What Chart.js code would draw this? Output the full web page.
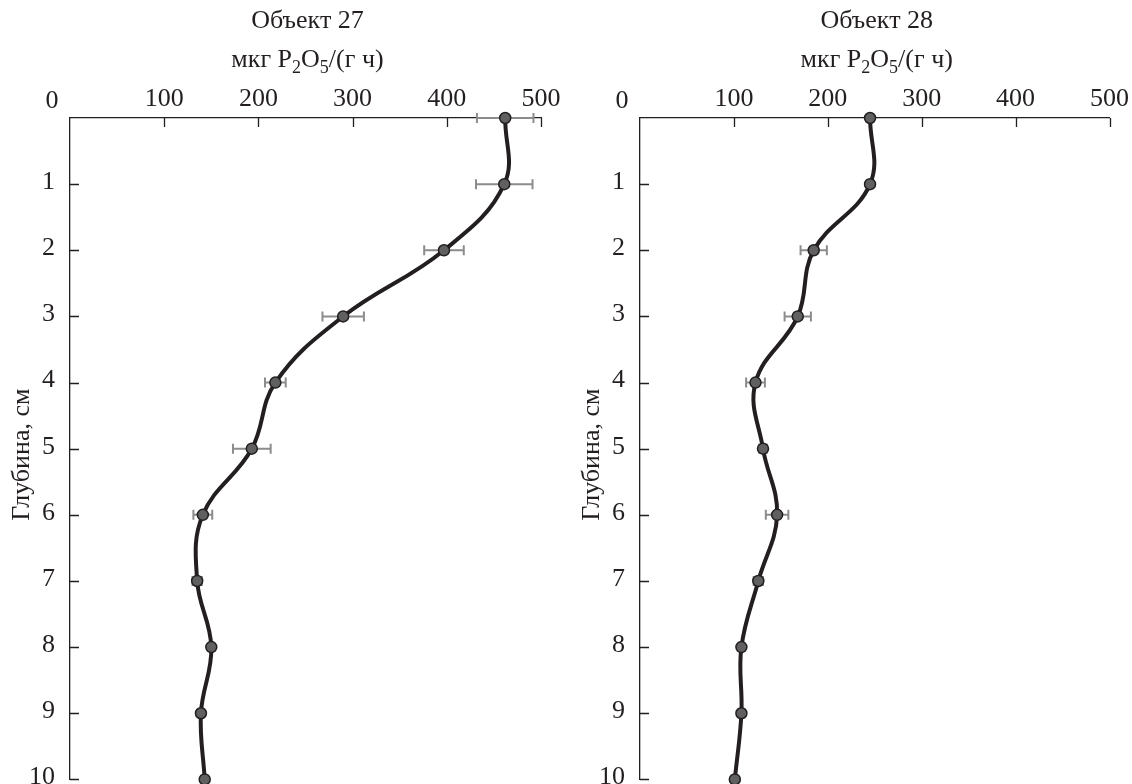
<!DOCTYPE html>
<html>
<head>
<meta charset="utf-8">
<script src="https://cdn.jsdelivr.net/npm/chart.js@4.4.1/dist/chart.umd.min.js"></script>
<style>
  html, body { margin: 0; padding: 0; background: #fff; overflow: hidden; width: 1132px; height: 784px; }
  .box { position: absolute; top: 0; width: 566px; height: 810px; }
  #b1 { left: 0; }
  #b2 { left: 566px; }
</style>
</head>
<body>
<div class="box" id="b1"><canvas id="c1" width="566" height="810"></canvas></div>
<div class="box" id="b2"><canvas id="c2" width="566" height="810"></canvas></div>
<script>
// ---- data ----
const depths = [0, 1, 2, 3, 4, 5, 6, 7, 8, 9, 10];
const depthLabels = ['0', '1', '2', '3', '4', '5', '6', '7', '8', '9', '10'];
const xTickValues = [0, 100, 200, 300, 400, 500];
const xTickLabels = ['0', '100', '200', '300', '400', '500'];
const titles = ['Объект 27', 'Объект 28'];
const yTitle = 'Глубина, см';
const obj27 = [462, 461, 397, 290, 218, 193, 141, 135, 150, 139, 143];
const err27 = [30, 30, 21, 22, 11, 20, 10, 5, 3, 3, 3];
const obj28 = [245, 245, 185, 168, 123, 131, 146, 126, 108, 108, 101];
const err28 = [3, 3, 14, 14, 10, 4, 12, 5, 3, 3, 3];

const INK = '#231f20';
const FONT = 'Liberation Serif';
const FS = 26;

const decor = {
  id: 'decor',
  beforeDatasetsDraw(chart, args, o) {
    const { ctx, scales: { x, y } } = chart;
    ctx.save();
    ctx.strokeStyle = '#8c8c8c';
    ctx.lineWidth = 2;
    for (let i = 0; i < o.values.length; i++) {
      const py = y.getPixelForValue(depths[i]);
      const x1 = x.getPixelForValue(o.values[i] - o.errors[i]);
      const x2 = x.getPixelForValue(o.values[i] + o.errors[i]);
      ctx.beginPath();
      ctx.moveTo(x1, py); ctx.lineTo(x2, py);
      ctx.moveTo(x1, py - 5); ctx.lineTo(x1, py + 5);
      ctx.moveTo(x2, py - 5); ctx.lineTo(x2, py + 5);
      ctx.stroke();
    }
    ctx.restore();
  },
  afterDraw(chart, args, o) {
    const { ctx, chartArea: a, scales: { x, y } } = chart;
    ctx.save();
    // inner tick marks
    ctx.strokeStyle = INK;
    ctx.lineWidth = 1.3;
    ctx.beginPath();
    for (let i = 1; i < xTickValues.length; i++) {
      const px = Math.round(x.getPixelForValue(xTickValues[i])) + 0.5;
      ctx.moveTo(px, a.top); ctx.lineTo(px, a.top + 9);
    }
    for (let i = 1; i < depths.length; i++) {
      const py = Math.round(y.getPixelForValue(depths[i])) + 0.5;
      ctx.moveTo(a.left, py); ctx.lineTo(a.left + 9, py);
    }
    ctx.stroke();
    // texts
    ctx.fillStyle = INK;
    ctx.textBaseline = 'alphabetic';
    ctx.textAlign = 'center';
    ctx.font = FS + 'px "' + FONT + '"';
    const cx = (a.left + a.right) / 2 + 2;
    ctx.fillText(o.title, cx, 28);
    // corner zero label
    ctx.fillText(xTickLabels[0], a.left - 18, 108);
    // units with subscripts
    const parts = [['мкг P', 0], ['2', 1], ['O', 0], ['5', 1], ['/(г ч)', 0]];
    const big = FS + 'px "' + FONT + '"';
    const small = Math.round(FS * 0.68) + 'px "' + FONT + '"';
    let total = 0;
    for (const [t, s] of parts) { ctx.font = s ? small : big; total += ctx.measureText(t).width; }
    let xx = cx - total / 2;
    ctx.textAlign = 'left';
    for (const [t, s] of parts) {
      ctx.font = s ? small : big;
      ctx.fillText(t, xx, s ? 73 : 67);
      xx += ctx.measureText(t).width;
    }
    // y title
    ctx.font = big;
    ctx.textAlign = 'center';
    ctx.textBaseline = 'middle';
    ctx.translate(a.left - 48, (a.top + a.bottom) / 2 + 6);
    ctx.rotate(-Math.PI / 2);
    ctx.fillText(yTitle, 0, 0);
    ctx.restore();
  }
};

function makeChart(id, values, errors, title, yWidth, padRight) {
  const pts = values.map((v, i) => ({ x: v, y: depths[i] }));
  return new Chart(document.getElementById(id), {
    type: 'scatter',
    data: {
      datasets: [{
        data: pts,
        showLine: true,
        tension: 0.4,
        borderColor: INK,
        borderWidth: 4,
        pointRadius: 5.5,
        pointHoverRadius: 5.5,
        pointBackgroundColor: '#606060',
        pointBorderColor: INK,
        pointBorderWidth: 1.5,
        clip: false
      }]
    },
    options: {
      responsive: false,
      animation: false,
      events: [],
      layout: { padding: { top: 0, left: 0, right: padRight, bottom: 29 } },
      plugins: {
        legend: { display: false },
        tooltip: { enabled: false },
        title: { display: false },
        decor: { values, errors, title }
      },
      scales: {
        x: {
          type: 'linear',
          position: 'top',
          min: 0, max: 500,
          afterBuildTicks: (s) => { s.ticks = xTickValues.map(v => ({ value: v })); },
          afterFit: (s) => { s.height = 118; },
          grid: { display: false, drawTicks: false },
          border: { display: true, color: INK, width: 1.3 },
          ticks: {
            padding: 3,
            color: INK,
            font: { family: FONT, size: FS },
            maxRotation: 0,
            callback: (v, i) => (i === 0 ? '' : xTickLabels[i])
          }
        },
        y: {
          type: 'linear',
          reverse: true,
          min: 0, max: 10,
          afterBuildTicks: (s) => { s.ticks = depths.map(v => ({ value: v })); },
          afterFit: (s) => { s.width = yWidth; },
          grid: { display: false, drawTicks: false },
          border: { display: true, color: INK, width: 1.3 },
          ticks: {
            padding: 15,
            labelOffset: -2,
            color: INK,
            font: { family: FONT, size: FS },
            callback: (v, i) => (i === 0 ? '' : depthLabels[i])
          }
        }
      }
    },
    plugins: [decor]
  });
}

makeChart('c1', obj27, err27, titles[0], 70, 25);
makeChart('c2', obj28, err28, titles[1], 74, 22);
</script>
</body>
</html>
